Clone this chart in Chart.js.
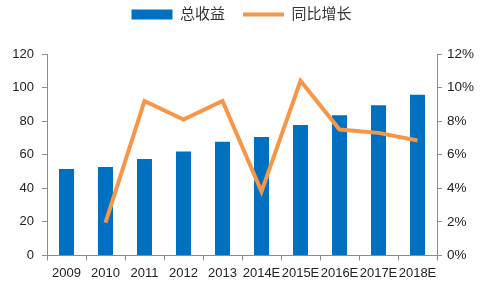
<!DOCTYPE html>
<html>
<head>
<meta charset="utf-8">
<script src="https://cdn.jsdelivr.net/npm/chart.js@4/dist/chart.umd.min.js"></script>
<style>
  html, body { margin: 0; padding: 0; background: #fff; }
  #wrap { width: 483px; height: 284px; }
</style>
</head>
<body>
<div id="wrap"><canvas id="myChart" width="483" height="284"></canvas></div>
<script>
const years = ["2009", "2010", "2011", "2012", "2013", "2014E", "2015E", "2016E", "2017E", "2018E"];
const revenue = [51.5, 52.7, 57.5, 61.9, 67.7, 70.5, 77.7, 83.5, 89.5, 95.7];
const growth = [null, 1.95, 9.2, 8.1, 9.2, 3.8, 10.4, 7.5, 7.3, 6.85];
const leftTicks = [0, 20, 40, 60, 80, 100, 120];
const rightTicks = [0, 2, 4, 6, 8, 10, 12];

document.addEventListener("DOMContentLoaded", () => {
  const fontFamily = "'Liberation Sans', 'Noto Sans CJK SC', sans-serif";
  const axisColor = "#8c8c8c";
  const ctx = document.getElementById("myChart").getContext("2d");

  // push the plot area down below the legend
  const legendSpace = {
    id: "legendSpace",
    beforeInit(chart) {
      const fit = chart.legend.fit;
      chart.legend.fit = function () {
        fit.bind(chart.legend)();
        this.height += 22;
      };
    }
  };

  const chart = new Chart(ctx, {
    data: {
      labels: years,
      datasets: [
        {
          type: "bar",
          label: "总收益",
          data: revenue,
          backgroundColor: "#0070c0",
          borderWidth: 0,
          pointStyle: "rect",
          yAxisID: "y",
          barPercentage: 0.77,
          categoryPercentage: 0.5,
          order: 2
        },
        {
          type: "line",
          label: "同比增长",
          data: growth,
          borderColor: "#f79646",
          backgroundColor: "#f79646",
          borderWidth: 4,
          pointRadius: 0,
          pointStyle: "line",
          tension: 0,
          yAxisID: "y1",
          order: 1
        }
      ]
    },
    plugins: [legendSpace],
    options: {
      responsive: false,
      animation: false,
      layout: { padding: { top: -11, right: 0, bottom: -2, left: 0 } },
      plugins: {
        tooltip: { enabled: false },
        legend: {
          position: "top",
          labels: {
            usePointStyle: true,
            pointStyleWidth: 41,
            boxHeight: 10,
            padding: 18,
            color: "#333",
            sort: (a, b) => a.datasetIndex - b.datasetIndex,
            font: { family: fontFamily, size: 15 }
          }
        }
      },
      scales: {
        x: {
          offset: true,
          grid: {
            display: true,
            offset: true,
            drawOnChartArea: false,
            tickLength: 5,
            color: axisColor
          },
          border: { color: axisColor, width: 1 },
          ticks: {
            color: "#222",
            maxRotation: 0,
            autoSkip: false,
            padding: 5,
            font: { family: fontFamily, size: 13 }
          }
        },
        y: {
          position: "left",
          min: 0,
          max: 120,
          afterBuildTicks: axis => {
            axis.ticks = leftTicks.map(v => ({ value: v }));
          },
          afterFit: axis => {
            axis.width = 47;
          },
          grid: {
            display: true,
            drawOnChartArea: false,
            tickLength: 5,
            color: axisColor
          },
          border: { color: axisColor, width: 1 },
          ticks: {
            color: "#222",
            padding: 8,
            font: { family: fontFamily, size: 13 }
          }
        },
        y1: {
          position: "right",
          min: 0,
          max: 12,
          afterBuildTicks: axis => {
            axis.ticks = rightTicks.map(v => ({ value: v }));
          },
          afterFit: axis => {
            axis.width = 46;
          },
          grid: {
            display: true,
            drawOnChartArea: false,
            tickLength: 5,
            color: axisColor
          },
          border: { color: axisColor, width: 1 },
          ticks: {
            color: "#222",
            padding: 5,
            callback: v => v + "%",
            font: { family: fontFamily, size: 13.5 }
          }
        }
      }
    }
  });
});
</script>
</body>
</html>
